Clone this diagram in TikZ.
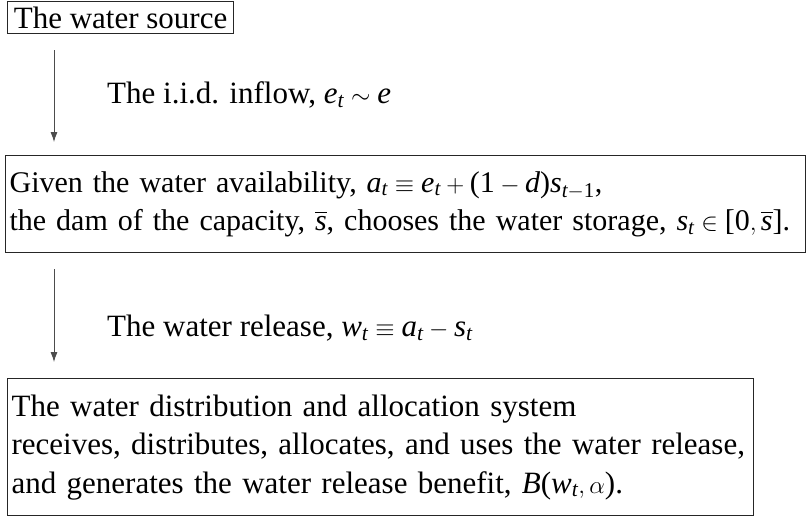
\documentclass[tikz,border=0pt]{standalone}
\usepackage{amsmath}
\usepackage{fontspec}
\setmainfont{Liberation Serif}
\usetikzlibrary{arrows.meta}
\newcommand\mv[1]{\mathit{#1}}
\newcommand\up[1]{\textup{#1}}

\begin{document}
\begin{tikzpicture}[x=1pt, y=-1pt,
  stage/.style={draw=black!85, line width=1.2pt, anchor=north west, align=left,
    inner xsep=4pt, inner ysep=0pt, font=\fontsize{31}{38.5}\selectfont},
  flow/.style={-{Latex[length=10pt,width=7pt]}, line width=0.8pt, black!70},
  note/.style={anchor=west, inner sep=0pt, font=\fontsize{31}{36}\selectfont}]
\useasboundingbox (0,0) rectangle (806,523);
\coordinate (ax) at (54,0);
\node[stage, minimum width=226pt, minimum height=32pt] (src) at (7,1) {The water source};
\node[stage, text width=792pt, minimum height=97pt, font=\fontsize{30}{38.5}\selectfont] (dam) at (5,155)
  {\mbox{Given the water availability, $\mv{a}_{\mv{t}} \equiv \mv{e}_{\mv{t}} + \up{(1}-\mv{d}\up{)}\mv{s}_{\mv{t}-\up{1}}$,}\\
   \mbox{the dam of the capacity, $\overline{\mv{s}}$, chooses the water storage, $\mv{s}_{\mv{t}} \in \up{[0},\overline{\mv{s}}\up{]}$.}};
\node[stage, text width=738pt, minimum height=137pt] (use) at (7,378)
  {The water distribution and allocation system\\
   \mbox{receives, distributes, allocates, and uses the water release,}\\
   and generates the water release benefit, $\mv{B}\up{(}\mv{w}_{\mv{t}},\alpha\up{)}$.};
\node[note] (inflow) at (107,95) {The i.i.d. inflow, $\mv{e}_{\mv{t}} \sim \mv{e}$};
\node[note] (release) at (107,328) {The water release, $\mv{w}_{\mv{t}} \equiv \mv{a}_{\mv{t}} - \mv{s}_{\mv{t}}$};
\draw[flow, shorten <=16pt, shorten >=13pt] (src.south -| ax) -- (dam.north -| ax);
\draw[flow, shorten <=16pt, shorten >=16pt] (dam.south -| ax) -- (use.north -| ax);
\end{tikzpicture}
\end{document}
